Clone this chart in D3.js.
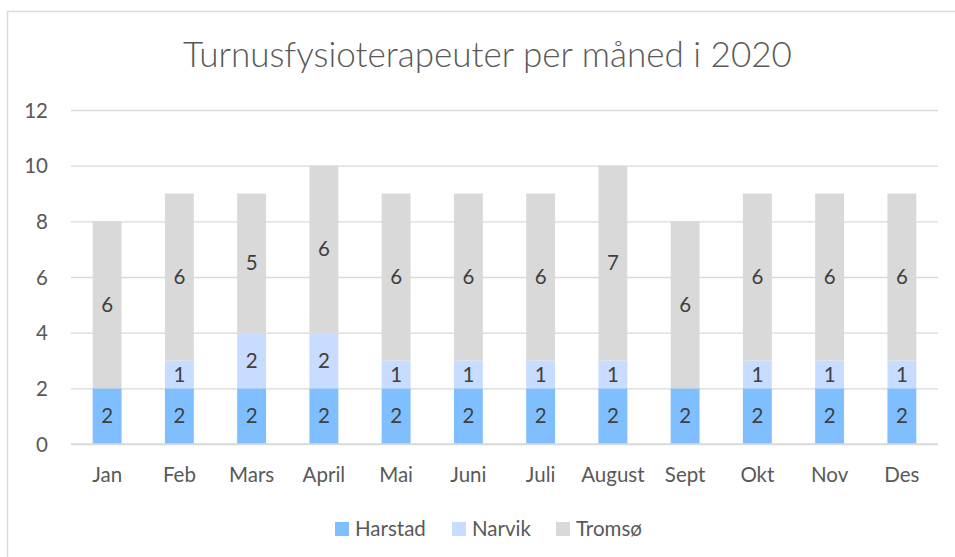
<!DOCTYPE html>
<html><head><meta charset="utf-8">
<script src="https://cdn.jsdelivr.net/npm/d3@7"></script>
<style>body{margin:0;background:#fff}svg{display:block}text{font-family:Lato,"Open Sans",sans-serif}</style>
</head><body><svg id="c" width="955" height="557"></svg>
<script>
const title = "Turnusfysioterapeuter per måned i 2020";
const months = ["Jan","Feb","Mars","April","Mai","Juni","Juli","August","Sept","Okt","Nov","Des"];
const seriesNames = ["Harstad","Narvik","Tromsø"];
const harstad = [2,2,2,2,2,2,2,2,2,2,2,2];
const narvik  = [0,1,2,2,1,1,1,1,0,1,1,1];
const tromso  = [6,6,5,6,6,6,6,7,6,6,6,6];
const colors = ["#80bfff","#c7dcff","#d9d9d9"];
const yTicks = [0,2,4,6,8,10,12];

const FS = 20.5;
const svg = d3.select("#c");
svg.append("rect").attr("x",7.5).attr("y",11.5).attr("width",1000).attr("height",600)
  .attr("fill","#fff").attr("stroke","#d9d9d9").attr("stroke-width",1.5);

const x0=71, x1=938, yB=444, yT=110;
const x = d3.scaleBand().domain(months).range([x0,x1]).paddingInner(0.6).paddingOuter(0.3);
const y = d3.scaleLinear().domain([0,12]).range([yB,yT]);

const t = svg.append("text").attr("x",487.5).attr("y",67).attr("text-anchor","middle")
  .attr("fill","#595959").attr("font-size",33).attr("font-weight",300).text(title);
const tw = t.node().getComputedTextLength();
t.attr("font-size", 33*609/tw);

const grid = svg.append("g").attr("transform",`translate(${x0},0)`)
  .call(d3.axisLeft(y).tickValues(yTicks).tickSize(-(x1-x0)).tickFormat(""));
grid.select(".domain").remove();
grid.selectAll("line").attr("stroke","#d9d9d9").attr("stroke-width",1.3);

const ya = svg.append("g").attr("transform",`translate(48,0)`)
  .call(d3.axisLeft(y).tickValues(yTicks).tickSize(0).tickPadding(0));
ya.select(".domain").remove();
ya.selectAll("text").attr("font-size",FS).attr("fill","#595959").attr("dy","0.35em").attr("font-family","Lato");

const rows = months.map((m,i)=>({m, Harstad:harstad[i], Narvik:narvik[i], "Tromsø":tromso[i]}));
const stack = d3.stack().keys(seriesNames)(rows);
const gs = svg.append("g").selectAll("g").data(stack).join("g").attr("fill",(d,i)=>colors[i]);
gs.selectAll("rect").data(d=>d).join("rect")
  .attr("x",d=>x(d.data.m)).attr("width",x.bandwidth())
  .attr("y",d=>y(d[1])).attr("height",d=>y(d[0])-y(d[1]));

const lg = svg.append("g");
stack.forEach(s=>{
  s.forEach(d=>{
    const v = d[1]-d[0];
    if(v>0){
      lg.append("text").attr("x",x(d.data.m)+x.bandwidth()/2).attr("y",(y(d[0])+y(d[1]))/2)
        .attr("dy","0.35em").attr("text-anchor","middle").attr("font-size",FS).attr("fill","#404040").text(v);
    }
  });
});

svg.append("line").attr("x1",x0).attr("x2",x1).attr("y1",yB).attr("y2",yB).attr("stroke","#d9d9d9").attr("stroke-width",1.5);

const xa = svg.append("g").attr("transform",`translate(0,${yB})`)
  .call(d3.axisBottom(x).tickSize(0).tickPadding(0));
xa.select(".domain").remove();
xa.selectAll("text").attr("font-size",FS).attr("fill","#595959").attr("font-family","Lato").attr("y",31).attr("dy","0.35em");

const legX = [335,452,556];
const leg = svg.append("g");
seriesNames.forEach((n,i)=>{
  leg.append("rect").attr("x",legX[i]).attr("y",522).attr("width",14).attr("height",14).attr("fill",colors[i]);
  leg.append("text").attr("x",legX[i]+20).attr("y",529).attr("dy","0.35em").attr("font-size",FS).attr("fill","#595959").text(n);
});
</script></body></html>
